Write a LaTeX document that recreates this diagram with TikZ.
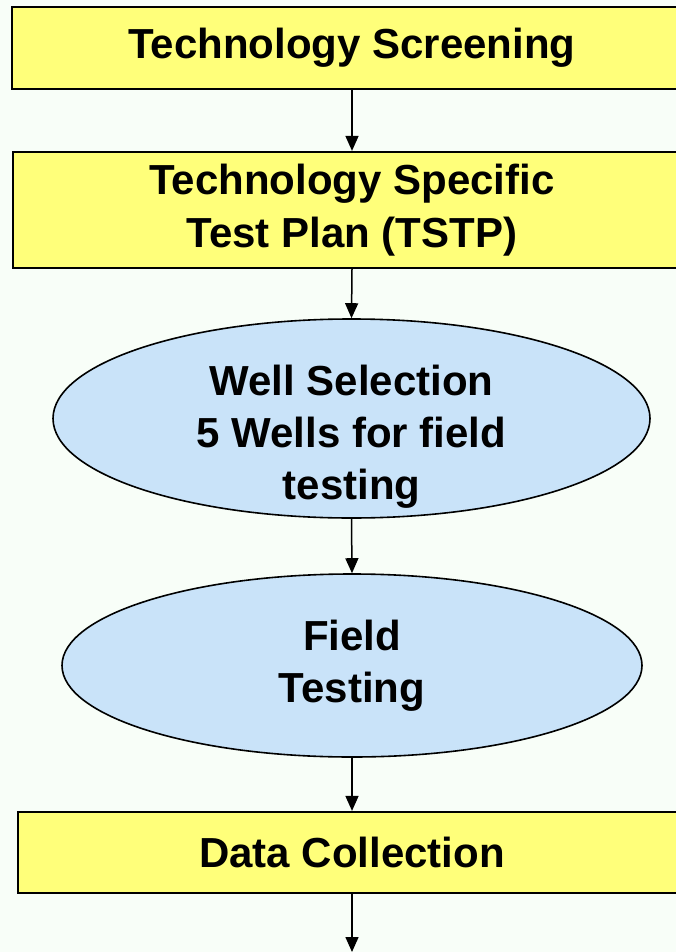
\documentclass[tikz,border=0pt]{standalone}
\usepackage{fontspec}
\setmainfont{Liberation Sans}
\usetikzlibrary{arrows.meta, shapes.geometric}

\definecolor{boxyellow}{RGB}{255,255,122}
\definecolor{ovalblue}{RGB}{201,227,249}
\definecolor{pagebg}{RGB}{248,254,248}

\begin{document}
\begin{tikzpicture}[x=1pt, y=-1pt,
    stepbox/.style={draw, line width=2.2pt, fill=boxyellow, rectangle, inner sep=0pt,
        align=center, font=\fontsize{42}{53}\selectfont\bfseries},
    oval/.style={draw, line width=1.6pt, fill=ovalblue, ellipse, inner sep=0pt},
    ovaltext/.style={align=center, font=\fontsize{42}{52}\selectfont\bfseries},
    flow/.style={-{Triangle[length=15pt, width=13pt]}, line width=1.5pt}
]

% Page
\fill[pagebg] (0,0) rectangle (676,952);
\clip (0,0) rectangle (676,952);

% Boxes
\node[stepbox, minimum width=680pt, minimum height=82pt] (screen) at (352,48)
    {Technology Screening};
\node[stepbox, minimum width=678pt, minimum height=116pt] (tstp) at (352,210)
    {Technology Specific\\Test Plan (TSTP)};

% Ovals
\node[oval, minimum width=597pt, minimum height=199pt,
    label={[ovaltext, yshift=-18pt]center:Well Selection\\5 Wells for field\\testing}]
    (wells) at (351.5,418.5) {};
\node[oval, minimum width=580pt, minimum height=183pt,
    label={[ovaltext]center:Field\\Testing}]
    (field) at (352,665.5) {};

\node[stepbox, minimum width=668pt, minimum height=81pt] (data) at (352,852.5)
    {Data Collection};
\coordinate (next) at (352,952);

% Connections
\draw[flow] (screen.south) -- (tstp.north);
\draw[flow] (tstp.south) -- (wells.north);
\draw[flow] (wells.south) -- (field.north);
\draw[flow] (field.south) -- (data.north);
\draw[flow] (data.south) -- (next);

\end{tikzpicture}
\end{document}
